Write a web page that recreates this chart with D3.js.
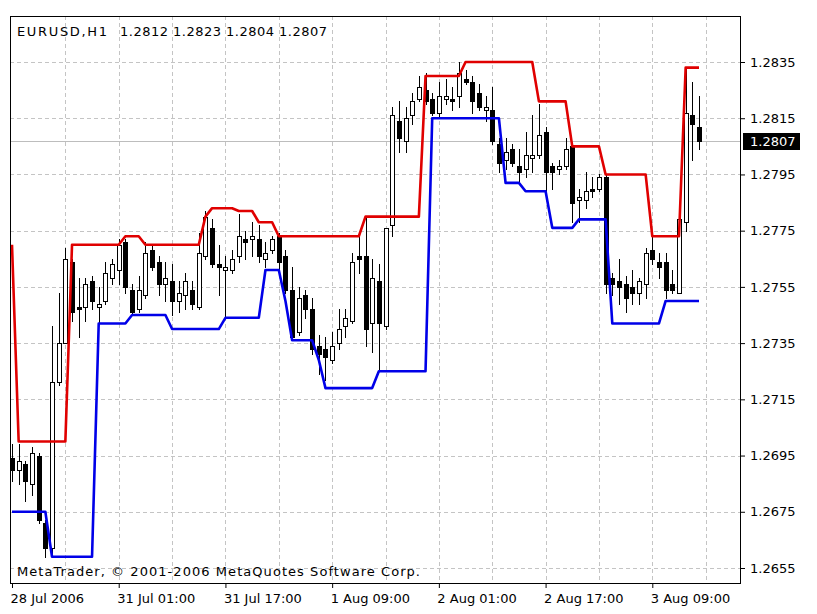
<!DOCTYPE html>
<html><head><meta charset="utf-8">
<script src="https://cdn.jsdelivr.net/npm/d3@7"></script>
<style>
html,body{margin:0;padding:0;background:#fff}
svg{display:block}
text{font-family:"DejaVu Sans",sans-serif;font-size:13px}
</style>
</head><body>
<svg id="c" width="817" height="614"></svg>
<script>
const symbolName = "EURUSD,H1";
const lastBarOHLC = "1.2812 1.2823 1.2804 1.2807";
const copyright = "MetaTrader, \u00A9 2001-2006 MetaQuotes Software Corp.";
const lastPrice = 1.2807;

const open = [1.2694,1.2690,1.2692,1.2685,1.2695,1.2671,1.2662,1.2721,1.2735,1.2764,
1.2748,1.2748,1.2757,1.2748,1.2750,1.2758,1.2761,1.2771,1.2754,1.2747,
1.2752,1.2768,1.2764,1.2756,1.2757,1.2750,1.2752,1.2754,1.2748,1.2766,
1.2776,1.2763,1.2761,1.2761,1.2766,1.2772,1.2772,1.2772,1.2765,1.2768,
1.2773,1.2766,1.2754,1.2739,1.2752,1.2747,1.2734,1.2733,1.2729,1.2735,
1.2741,1.2743,1.2766,1.2766,1.2742,1.2757,1.2741,1.2777,1.2814,1.2807,
1.2816,1.2822,1.2825,1.2822,1.2817,1.2822,1.2822,1.2823,1.2829,1.2828,
1.2824,1.2818,1.2818,1.2806,1.2800,1.2804,1.2798,1.2797,1.2801,1.2802,
1.2810,1.2798,1.2797,1.2798,1.2805,1.2786,1.2786,1.2790,1.2790,1.2794,
1.2758,1.2757,1.2756,1.2755,1.2753,1.2756,1.2768,1.2764,1.2764,1.2756,
1.2753,1.2778,1.2816,1.2812];
const high = [1.2699,1.2699,1.2693,1.2698,1.2696,1.2672,1.2741,1.2753,1.2769,1.2765,
1.2758,1.2758,1.2759,1.2755,1.2764,1.2765,1.2772,1.2772,1.2756,1.2759,
1.2771,1.2770,1.2766,1.2764,1.2763,1.2757,1.2760,1.2757,1.2774,1.2782,
1.2779,1.2770,1.2766,1.2768,1.2781,1.2775,1.2778,1.2777,1.2771,1.2773,
1.2774,1.2768,1.2762,1.2755,1.2754,1.2751,1.2738,1.2737,1.2739,1.2747,
1.2747,1.2767,1.2773,1.2780,1.2765,1.2763,1.2776,1.2819,1.2821,1.2819,
1.2824,1.2830,1.2831,1.2824,1.2828,1.2829,1.2826,1.2835,1.2832,1.2830,
1.2827,1.2823,1.2826,1.2808,1.2808,1.2806,1.2804,1.2810,1.2816,1.2820,
1.2812,1.2799,1.2800,1.2808,1.2806,1.2790,1.2796,1.2794,1.2795,1.2795,
1.2760,1.2765,1.2759,1.2761,1.2758,1.2769,1.2775,1.2767,1.2767,1.2761,
1.2783,1.2833,1.2828,1.2823];
const low = [1.2686,1.2685,1.2679,1.2681,1.2671,1.2659,1.2659,1.2720,1.2735,1.2743,
1.2737,1.2743,1.2747,1.2742,1.2749,1.2756,1.2756,1.2753,1.2745,1.2746,
1.2751,1.2761,1.2752,1.2750,1.2745,1.2746,1.2747,1.2747,1.2747,1.2765,
1.2762,1.2752,1.2744,1.2760,1.2764,1.2765,1.2766,1.2764,1.2762,1.2767,
1.2760,1.2753,1.2736,1.2738,1.2744,1.2731,1.2724,1.2722,1.2728,1.2733,
1.2737,1.2742,1.2760,1.2734,1.2732,1.2725,1.2740,1.2773,1.2803,1.2803,
1.2813,1.2821,1.2820,1.2816,1.2815,1.2820,1.2818,1.2819,1.2827,1.2817,
1.2818,1.2814,1.2806,1.2796,1.2797,1.2798,1.2792,1.2794,1.2796,1.2801,
1.2789,1.2790,1.2795,1.2797,1.2778,1.2778,1.2783,1.2787,1.2789,1.2753,
1.2752,1.2749,1.2746,1.2749,1.2749,1.2751,1.2763,1.2758,1.2751,1.2753,
1.2753,1.2775,1.2800,1.2804];
const close = [1.2690,1.2693,1.2686,1.2696,1.2672,1.2662,1.2721,1.2735,1.2765,1.2746,
1.2747,1.2756,1.2750,1.2749,1.2760,1.2763,1.2770,1.2755,1.2746,1.2754,
1.2767,1.2762,1.2756,1.2758,1.2750,1.2753,1.2757,1.2749,1.2767,1.2780,
1.2763,1.2762,1.2762,1.2765,1.2773,1.2771,1.2773,1.2766,1.2767,1.2772,
1.2764,1.2754,1.2737,1.2751,1.2747,1.2733,1.2731,1.2730,1.2734,1.2740,
1.2744,1.2764,1.2765,1.2740,1.2758,1.2742,1.2776,1.2816,1.2808,1.2815,
1.2821,1.2826,1.2821,1.2817,1.2823,1.2823,1.2821,1.2831,1.2828,1.2821,
1.2819,1.2819,1.2807,1.2799,1.2803,1.2799,1.2796,1.2802,1.2802,1.2809,
1.2796,1.2796,1.2798,1.2804,1.2785,1.2787,1.2789,1.2789,1.2794,1.2756,
1.2756,1.2755,1.2751,1.2753,1.2757,1.2767,1.2765,1.2762,1.2754,1.2754,
1.2779,1.2817,1.2813,1.2807];
const upperChannel = [1.2770,1.2700,1.2700,1.2700,1.2700,1.2700,1.2700,1.2700,1.2700,1.2770,
1.2770,1.2770,1.2770,1.2770,1.2770,1.2770,1.2770,1.2773,1.2773,1.2773,
1.2770,1.2770,1.2770,1.2770,1.2770,1.2770,1.2770,1.2770,1.2770,1.2780,
1.2783,1.2783,1.2783,1.2783,1.2782,1.2782,1.2782,1.2778,1.2778,1.2778,
1.2773,1.2773,1.2773,1.2773,1.2773,1.2773,1.2773,1.2773,1.2773,1.2773,
1.2773,1.2773,1.2773,1.2780,1.2780,1.2780,1.2780,1.2780,1.2780,1.2780,
1.2780,1.2780,1.2830,1.2830,1.2830,1.2830,1.2830,1.2830,1.2835,1.2835,
1.2835,1.2835,1.2835,1.2835,1.2835,1.2835,1.2835,1.2835,1.2835,1.2821,
1.2821,1.2821,1.2821,1.2821,1.2805,1.2805,1.2805,1.2805,1.2805,1.2795,
1.2795,1.2795,1.2795,1.2795,1.2795,1.2795,1.2773,1.2773,1.2773,1.2773,
1.2773,1.2833,1.2833,1.2833];
const lowerChannel = [1.2675,1.2675,1.2675,1.2675,1.2675,1.2675,1.2659,1.2659,1.2659,1.2659,
1.2659,1.2659,1.2659,1.2742,1.2742,1.2742,1.2742,1.2742,1.2745,1.2745,
1.2745,1.2745,1.2745,1.2745,1.2740,1.2740,1.2740,1.2740,1.2740,1.2740,
1.2740,1.2740,1.2744,1.2744,1.2744,1.2744,1.2744,1.2744,1.2761,1.2761,
1.2761,1.2750,1.2736,1.2736,1.2736,1.2736,1.2729,1.2719,1.2719,1.2719,
1.2719,1.2719,1.2719,1.2719,1.2719,1.2725,1.2725,1.2725,1.2725,1.2725,
1.2725,1.2725,1.2725,1.2815,1.2815,1.2815,1.2815,1.2815,1.2815,1.2815,
1.2815,1.2815,1.2815,1.2815,1.2792,1.2792,1.2792,1.2789,1.2789,1.2789,
1.2789,1.2776,1.2776,1.2776,1.2776,1.2779,1.2779,1.2779,1.2779,1.2779,
1.2742,1.2742,1.2742,1.2742,1.2742,1.2742,1.2742,1.2742,1.2750,1.2750,
1.2750,1.2750,1.2750,1.2750];
const priceTicks = [1.2655,1.2675,1.2695,1.2715,1.2735,1.2755,1.2775,1.2795,1.2815,1.2835];
const timeTickBars = [0,16,32,48,64,80,96];
const timeTickLabels = ["28 Jul 2006","31 Jul 01:00","31 Jul 17:00","1 Aug 09:00","2 Aug 01:00","2 Aug 17:00","3 Aug 09:00"];
const gridBars = [8,16,24,32,40,48,56,64,72,80,88,96,104];

const svg = d3.select("#c");
const L = 10, R = 740, T = 16, B = 583;
const n = open.length;
const x = d3.scaleLinear().domain([0, n - 1]).range([12, 699]);
const y = d3.scaleLinear().domain([1.2655, 1.2835]).range([568, 62]);
const px = v => Math.round(x(v));
const py = v => Math.round(y(v));

svg.append("rect").attr("width", 817).attr("height", 614).attr("fill", "#fff");

// grid
const grid = svg.append("g").attr("stroke", "#c4c4c4").attr("stroke-dasharray", "4,3").attr("stroke-width", 1);
grid.selectAll("line.h").data(priceTicks).join("line").attr("class", "h")
  .attr("x1", L).attr("x2", R).attr("y1", d => py(d) + 0.5).attr("y2", d => py(d) + 0.5);
grid.selectAll("line.v").data(gridBars).join("line").attr("class", "v")
  .attr("x1", d => px(d) + 0.5).attr("x2", d => px(d) + 0.5).attr("y1", T).attr("y2", B);

// last price line
svg.append("line").attr("x1", L).attr("x2", R)
  .attr("y1", py(lastPrice) + 0.5).attr("y2", py(lastPrice) + 0.5)
  .attr("stroke", "#bdbdbd").attr("stroke-width", 1);

// candles
const idx = d3.range(n);
const cg = svg.append("g");
cg.selectAll("line.w").data(idx).join("line").attr("class", "w")
  .attr("x1", i => px(i) + 0.5).attr("x2", i => px(i) + 0.5)
  .attr("y1", i => py(high[i])).attr("y2", i => py(low[i]) + 1)
  .attr("stroke", "#000").attr("stroke-width", 1);
cg.selectAll("rect.b").data(idx).join("rect").attr("class", "b")
  .attr("x", i => px(i) - 1.5).attr("width", 4)
  .attr("y", i => py(Math.max(open[i], close[i])) + 0.5)
  .attr("height", i => Math.max(0, py(Math.min(open[i], close[i])) - py(Math.max(open[i], close[i]))))
  .attr("fill", i => close[i] >= open[i] ? "#fff" : "#000")
  .attr("stroke", "#000").attr("stroke-width", 1);

// channel lines
const line = d3.line().x((d, i) => x(i)).y(d => y(d));
svg.append("path").datum(upperChannel).attr("d", line)
  .attr("fill", "none").attr("stroke", "#e00000").attr("stroke-width", 2.6).attr("stroke-linejoin", "round");
svg.append("path").datum(lowerChannel).attr("d", line)
  .attr("fill", "none").attr("stroke", "#0000e8").attr("stroke-width", 2.6).attr("stroke-linejoin", "round");

// frame
svg.append("rect").attr("x", L + 0.5).attr("y", T + 0.5).attr("width", R - L).attr("height", B - T)
  .attr("fill", "none").attr("stroke", "#000").attr("stroke-width", 1);

// right axis
const ya = svg.append("g").attr("transform", `translate(${R},0)`)
  .call(d3.axisRight(y).tickValues(priceTicks).tickFormat(d3.format(".4f")).tickSize(5).tickPadding(5));
ya.select(".domain").remove();
ya.selectAll("text").attr("font-family", "DejaVu Sans").attr("font-size", 13).attr("fill", "#000");
ya.selectAll("line").attr("stroke", "#000");

// bottom axis
const xa = svg.append("g").attr("transform", `translate(0,${B})`)
  .call(d3.axisBottom(x).tickValues(timeTickBars).tickFormat((d, i) => timeTickLabels[i]).tickSize(5).tickPadding(6));
xa.select(".domain").remove();
xa.selectAll("text").attr("font-family", "DejaVu Sans").attr("font-size", 13).attr("fill", "#000")
  .attr("text-anchor", "start").attr("x", -2);
xa.selectAll("line").attr("stroke", "#000");

// last price label
const ly = py(lastPrice);
svg.append("rect").attr("x", R + 3).attr("y", ly - 8).attr("width", 57).attr("height", 17).attr("fill", "#000");
svg.append("text").attr("x", R + 10).attr("y", ly + 5).attr("fill", "#fff").text(d3.format(".4f")(lastPrice));

// texts
svg.append("text").attr("x", 17).attr("y", 36).attr("fill", "#000").attr("font-size", 13.5)
  .attr("textLength", 90).attr("lengthAdjust", "spacing").text(symbolName);
svg.append("text").attr("x", 120).attr("y", 36).attr("fill", "#000")
  .attr("textLength", 207).attr("lengthAdjust", "spacing").text(lastBarOHLC);
svg.append("text").attr("x", 17).attr("y", 576).attr("fill", "#000").attr("font-size", 14)
  .attr("textLength", 403).attr("lengthAdjust", "spacing").text(copyright);
</script>
</body></html>
